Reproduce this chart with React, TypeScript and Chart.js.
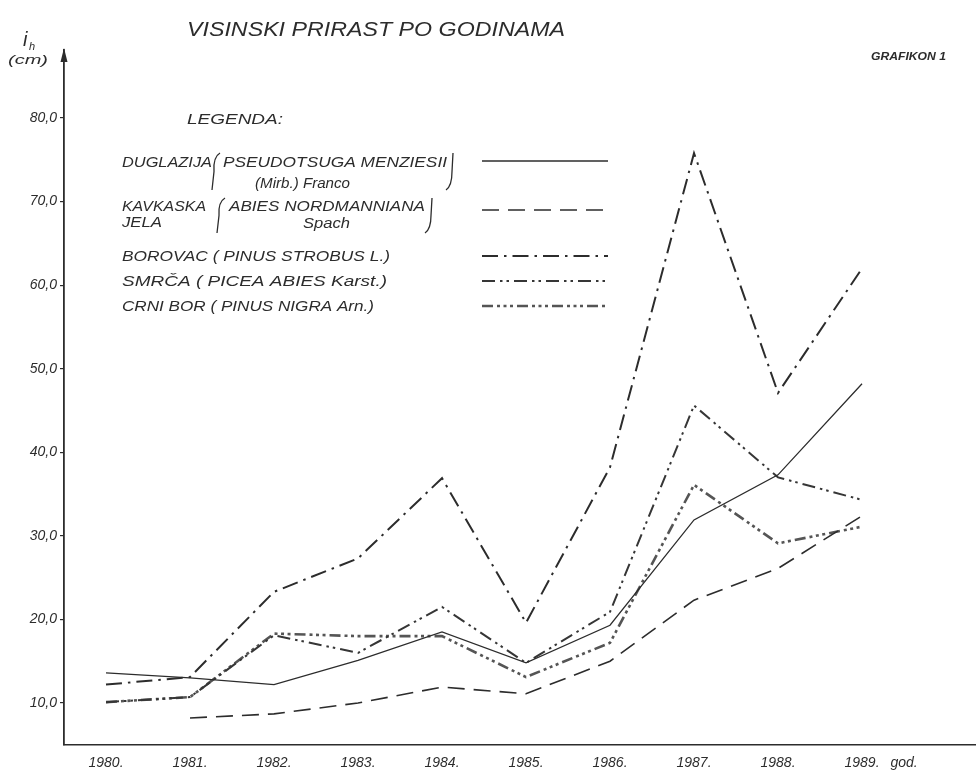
import React, { useEffect, useRef } from "react";
import { Chart, registerables } from "chart.js";

Chart.register(...registerables);

// ---------- data ----------
const TITLE = "VISINSKI PRIRAST PO GODINAMA";
const CHART_NO = "GRAFIKON 1";
const LEGEND_HEADING = "LEGENDA:";
const Y_SYMBOL = "i";
const Y_SUB = "h";
const Y_UNIT = "(cm)";
const years = [1980, 1981, 1982, 1983, 1984, 1985, 1986, 1987, 1988, 1989];
const yearLabels = ["1980.", "1981.", "1982.", "1983.", "1984.", "1985.", "1986.", "1987.", "1988.", "1989."];
const xUnitLabel = "god.";
const yTickValues = [10, 20, 30, 40, 50, 60, 70, 80];

const seriesNames = [
  "DUGLAZIJA (PSEUDOTSUGA MENZIESII (Mirb.) Franco)",
  "KAVKASKA JELA (ABIES NORDMANNIANA Spach)",
  "BOROVAC ( PINUS STROBUS L.)",
  "SMRČA ( PICEA ABIES Karst.)",
  "CRNI BOR ( PINUS NIGRA Arn.)",
];

const duglazija = [13.6, 13.0, 12.2, 15.1, 18.5, 14.8, 19.3, 31.9, 37.3, 48.2];
const kavkaskaJela = [null, 8.2, 8.7, 10.0, 11.9, 11.1, 15.0, 22.3, 26.1, 32.4];
const borovac = [12.2, 13.1, 23.3, 27.3, 36.9, 19.6, 38.2, 75.8, 47.1, 62.0];
const smrca = [10.1, 10.7, 18.1, 16.0, 21.5, 14.8, 20.9, 45.6, 37.0, 34.3];
const crniBor = [10.1, 10.7, 18.3, 18.0, 18.0, 13.1, 17.2, 36.1, 29.1, 31.1];

const allSeries = [duglazija, kavkaskaJela, borovac, smrca, crniBor];

// ---------- styles ----------
const INK = "#2c2c2c";
const FONT = "'Liberation Sans', Arial, sans-serif";
const lineStyles = [
  { dash: [] as number[], width: 1.3, color: INK },
  { dash: [17, 9], width: 1.6, color: INK },
  { dash: [16, 6, 2.5, 6], width: 2, color: INK },
  { dash: [13, 5, 2.5, 4, 2.5, 5], width: 2, color: "#363636" },
  { dash: [11, 4, 3, 3.5, 3, 3.5, 3, 4], width: 2.6, color: "#555555" },
];

function fitText(ctx: CanvasRenderingContext2D, text: string, x: number, y: number, w: number, font: string) {
  ctx.font = font;
  const m = ctx.measureText(text).width || 1;
  ctx.save();
  ctx.translate(x, y);
  ctx.scale(w / m, 1);
  ctx.textAlign = "left";
  ctx.textBaseline = "alphabetic";
  ctx.fillText(text, 0, 0);
  ctx.restore();
}

function paren(ctx: CanvasRenderingContext2D, x: number, top: number, bottom: number, open: boolean) {
  const mid = (top + bottom) / 2;
  ctx.save();
  ctx.setLineDash([]);
  ctx.lineWidth = 1.3;
  ctx.strokeStyle = INK;
  ctx.beginPath();
  if (open) {
    ctx.moveTo(x + 8, top);
    ctx.quadraticCurveTo(x + 1, top + 4, x + 2, mid);
    ctx.lineTo(x, bottom);
  } else {
    ctx.moveTo(x + 2, top);
    ctx.lineTo(x + 1, mid);
    ctx.quadraticCurveTo(x + 1, bottom - 4, x - 5, bottom);
  }
  ctx.stroke();
  ctx.restore();
}

const decorPlugin = {
  id: "decor",
  afterDraw(chart: any) {
    const ctx: CanvasRenderingContext2D = chart.ctx;
    const area = chart.chartArea;
    const ds = chart.data.datasets;
    ctx.save();
    ctx.fillStyle = INK;

    // title
    fitText(ctx, TITLE, 187, 36, 378, `italic 20px ${FONT}`);
    // chart number
    fitText(ctx, CHART_NO, 871, 60, 75, `italic bold 10px ${FONT}`);

    // y-axis symbol
    ctx.font = `italic 20px ${FONT}`;
    ctx.fillText(Y_SYMBOL, 23, 46);
    ctx.font = `italic 11px ${FONT}`;
    ctx.fillText(Y_SUB, 29, 50);
    fitText(ctx, Y_UNIT, 8, 64, 40, `italic 13px ${FONT}`);

    // axis arrow
    const ax = area.left;
    ctx.beginPath();
    ctx.moveTo(ax, area.top - 2);
    ctx.lineTo(ax - 3.5, area.top + 12);
    ctx.lineTo(ax + 3.5, area.top + 12);
    ctx.closePath();
    ctx.fill();

    // legend heading
    fitText(ctx, LEGEND_HEADING, 187, 124, 96, `italic 14px ${FONT}`);

    const f = `italic 14px ${FONT}`;
    // row 1
    fitText(ctx, "DUGLAZIJA", 122, 167, 90, f);
    paren(ctx, 212, 153, 190, true);
    fitText(ctx, "PSEUDOTSUGA MENZIESII", 223, 167, 224, f);
    paren(ctx, 451, 153, 190, false);
    fitText(ctx, "(Mirb.) Franco", 255, 188, 95, f);
    // row 2
    fitText(ctx, "KAVKASKA", 122, 211, 84, f);
    fitText(ctx, "JELA", 122, 227, 40, f);
    paren(ctx, 217, 198, 233, true);
    fitText(ctx, "ABIES NORDMANNIANA", 229, 211, 196, f);
    paren(ctx, 430, 198, 233, false);
    fitText(ctx, "Spach", 303, 228, 47, f);
    // rows 3..5
    fitText(ctx, "BOROVAC ( PINUS STROBUS L.)", 122, 261, 268, f);
    fitText(ctx, "SMRČA ( PICEA ABIES Karst.)", 122, 286, 265, f);
    fitText(ctx, "CRNI BOR ( PINUS NIGRA Arn.)", 122, 311, 252, f);

    // legend samples
    const rowsY = [161, 210, 256, 281, 306];
    ds.forEach((d: any, i: number) => {
      ctx.save();
      ctx.setLineDash(d.borderDash || []);
      ctx.lineWidth = d.borderWidth;
      ctx.strokeStyle = d.borderColor;
      ctx.beginPath();
      ctx.moveTo(482, rowsY[i]);
      ctx.lineTo(608, rowsY[i]);
      ctx.stroke();
      ctx.restore();
    });
    ctx.restore();
  },
};

export default function App() {
  const ref = useRef<HTMLCanvasElement | null>(null);

  useEffect(() => {
    if (!ref.current) return;
    const datasets = allSeries.map((vals, i) => ({
      label: seriesNames[i],
      data: years.map((yr, j) => ({ x: yr, y: vals[j] })),
      borderColor: lineStyles[i].color,
      borderWidth: lineStyles[i].width,
      borderDash: lineStyles[i].dash,
      pointRadius: 0,
      fill: false,
      tension: 0,
      spanGaps: false,
      borderJoinStyle: "miter" as const,
    }));

    const chart = new Chart(ref.current, {
      type: "line",
      data: { datasets },
      plugins: [decorPlugin],
      options: {
        responsive: false,
        devicePixelRatio: 1,
        animation: false,
        layout: { padding: { top: 50, right: 4, left: 0, bottom: 0 } },
        plugins: { legend: { display: false }, title: { display: false }, tooltip: { enabled: false } },
        scales: {
          x: {
            type: "linear",
            min: 1979.5,
            max: 1990.345,
            afterBuildTicks: (scale: any) => {
              scale.ticks = [...years, 1989.5].map((v) => ({ value: v }));
            },
            afterFit: (scale: any) => {
              scale.height = 27;
            },
            ticks: {
              autoSkip: false,
              maxRotation: 0,
              padding: 10,
              color: INK,
              font: { family: FONT, size: 14, style: "italic" },
              callback: (v: any) => {
                const n = Number(v);
                if (n === 1989.5) return xUnitLabel;
                const k = years.indexOf(n);
                return k >= 0 ? yearLabels[k] : "";
              },
            },
            grid: { display: true, drawOnChartArea: false, drawTicks: false, color: INK },
            border: { display: true, color: INK, width: 1.6 },
          },
          y: {
            type: "linear",
            min: 4.97,
            max: 88.14,
            afterBuildTicks: (scale: any) => {
              scale.ticks = yTickValues.map((v) => ({ value: v }));
            },
            afterFit: (scale: any) => {
              scale.width = 64;
            },
            ticks: {
              padding: 3,
              color: INK,
              font: { family: FONT, size: 14, style: "italic" },
              callback: (v: any) => Number(v).toFixed(1).replace(".", ","),
            },
            grid: { display: true, drawOnChartArea: false, tickLength: 4, color: INK, lineWidth: 1.2 },
            border: { display: true, color: INK, width: 1.8 },
          },
        },
      },
    });
    return () => chart.destroy();
  }, []);

  return (
    <div style={{ position: "absolute", left: 0, top: 0, width: 979, height: 772, background: "#ffffff" }}>
      <canvas ref={ref} width={979} height={772} style={{ display: "block" }} />
    </div>
  );
}
